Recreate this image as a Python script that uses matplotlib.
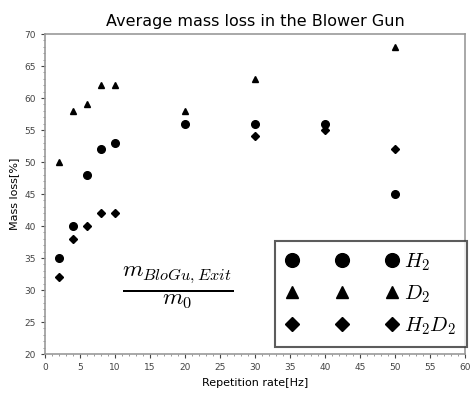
import numpy as np
import matplotlib.pyplot as plt
from matplotlib.ticker import MultipleLocator

plt.rcParams['mathtext.fontset'] = 'cm'

# repetition rate [Hz] and mass loss [%]
rate_h2 = [2, 4, 6, 8, 10, 20, 30, 40, 50]
loss_h2 = [35, 40, 48, 52, 53, 56, 56, 56, 45]

rate_d2 = [2, 4, 6, 8, 10, 20, 30, 50]
loss_d2 = [50, 58, 59, 62, 62, 58, 63, 68]

rate_h2d2 = [2, 4, 6, 8, 10, 30, 40, 50]
loss_h2d2 = [32, 38, 40, 42, 42, 54, 55, 52]

fig = plt.figure(figsize=(4.75, 3.96), dpi=100)
ax = fig.add_axes([0.095, 0.106, 0.884, 0.808])

ax.plot(rate_h2, loss_h2, 'o', color='black', ms=5.5, label='$H_2$')
ax.plot(rate_d2, loss_d2, '^', color='black', ms=4.5, label='$D_2$')
ax.plot(rate_h2d2, loss_h2d2, 'D', color='black', ms=4, label='$H_2D_2$')

ax.set_xlim(0, 60)
ax.set_ylim(20, 70)
ax.xaxis.set_major_locator(MultipleLocator(5))
ax.xaxis.set_minor_locator(MultipleLocator(1))
ax.yaxis.set_major_locator(MultipleLocator(5))
ax.yaxis.set_minor_locator(MultipleLocator(1))
ax.tick_params(labelsize=6.5, colors='#444444', length=3)
ax.tick_params(which='minor', length=1.5, colors='#888888')
for s in ax.spines.values():
    s.set_color('#999999')
    s.set_linewidth(1.2)

ax.set_title('Average mass loss in the Blower Gun', fontsize=11.5)
ax.set_xlabel('Repetition rate[Hz]', fontsize=8)
ax.set_ylabel('Mass loss[%]', fontsize=8)

ax.text(19, 30.3, r'$\frac{m_{BloGu,Exit}}{m_0}$', fontsize=24,
        ha='center', va='center')

leg = ax.legend(loc='lower right', bbox_to_anchor=(1.004, 0.022), numpoints=3,
                markerscale=1.8, handlelength=5.4, fontsize=15,
                frameon=True, fancybox=False, edgecolor='#333333',
                borderpad=0.5, labelspacing=0.5, handletextpad=0.3,
                borderaxespad=0)
leg.get_frame().set_linewidth(1.5)

fig.savefig('out.png', dpi=100)
